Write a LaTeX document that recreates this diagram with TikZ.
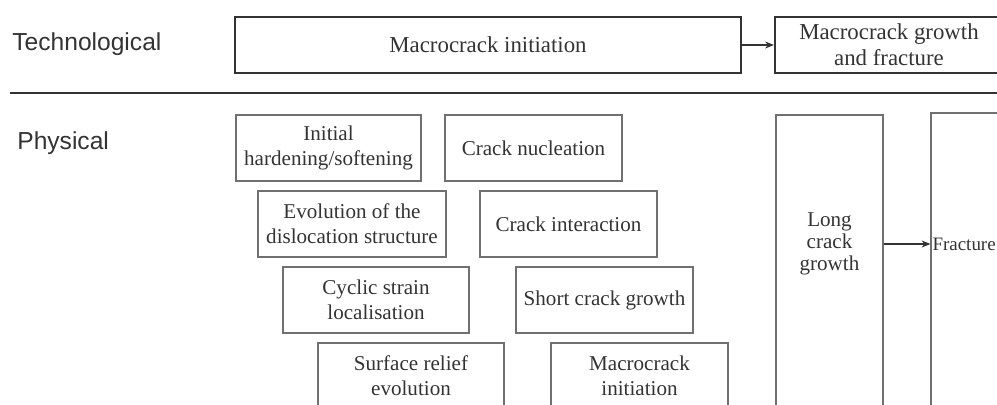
\documentclass[tikz,border=0pt]{standalone}
\usepackage{fontspec}
\setmainfont{Liberation Serif}
\setsansfont{Liberation Sans}
\usetikzlibrary{arrows.meta}
\definecolor{ink}{HTML}{333333}
\definecolor{edge}{HTML}{707070}

\begin{document}
\begin{tikzpicture}[x=0.02cm, y=-0.02cm,
    tech/.style={draw=ink, text=ink, line width=1.3pt, minimum height=1.12cm,
        inner sep=0pt, align=center, font=\fontsize{13}{15}\selectfont},
    phys/.style={draw=edge, text=ink, line width=0.7pt, minimum height=1.32cm,
        inner sep=0pt, align=center, font=\fontsize{12}{14.4}\selectfont},
    lbl/.style={anchor=west, text=ink, inner sep=0pt, font=\sffamily\fontsize{14}{16}\selectfont},
    tip/.style={draw=ink, -{Stealth[length=5pt,width=4pt]}, line width=0.6pt}]
    \clip (0,0) rectangle (997,405);
    \node[lbl] (tl) at (12,44) {Technological};
    \node[lbl] (pl) at (17,143) {Physical};
    \node[tech, minimum width=10.12cm] (mi) at (488,45) {Macrocrack initiation};
    \node[tech, minimum width=4.56cm] (mg) at (889,45) {Macrocrack growth\\and fracture};
    \draw[tip] (mi) -- (mg);
    \draw[ink, line width=1.1pt] (10,93) -- (997,93);

    \node[phys, minimum width=3.7cm] (ihs) at (328.5,148) {Initial\\hardening/softening};
    \node[phys, minimum width=3.54cm] (cn) at (533.5,148) {Crack nucleation};
    \node[phys, minimum width=3.76cm] (eds) at (352,224) {Evolution of the\\dislocation structure};
    \node[phys, minimum width=3.54cm] (ci) at (568.5,224) {Crack interaction};
    \node[phys, minimum width=3.72cm] (csl) at (376,300) {Cyclic strain\\localisation};
    \node[phys, minimum width=3.54cm] (scg) at (604.5,300) {Short crack growth};
    \node[phys, minimum width=3.72cm] (sre) at (411,376) {Surface relief\\evolution};
    \node[phys, minimum width=3.54cm] (mci) at (639.5,376) {Macrocrack\\initiation};

    \node[phys, minimum width=2.14cm, minimum height=6.3cm] (lc) at (829.5,272.5) {};
    \node[text=ink, align=center, font=\fontsize{12}{12.5}\selectfont] (lt) at (829.5,244) {Long\\crack\\growth};
    \node[phys, minimum width=1.98cm, minimum height=6.38cm] (fb) at (980.5,272.5) {};
    \node[text=ink, anchor=west, inner sep=1pt, font=\fontsize{10.8}{13}\selectfont] (ft) at (fb.west |- lt) {Fracture};
    \draw[tip] (lc.east |- lt) -- (ft.west);
\end{tikzpicture}
\end{document}
